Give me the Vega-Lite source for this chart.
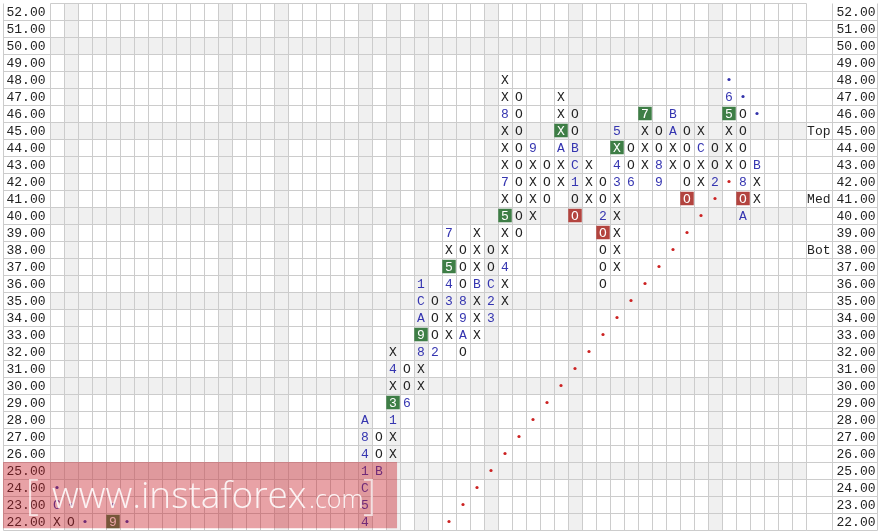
{
  "$schema": "https://vega.github.io/schema/vega-lite/v6.json",
  "width": 756,
  "height": 527,
  "autosize": {"type": "none"},
  "padding": {"left": 50, "top": 3, "right": 73, "bottom": 1},
  "background": "white",
  "config": {
    "view": {"stroke": "#cccccc", "strokeWidth": 1},
    "axis": {"zindex": 0, "title": null}
  },
  "datasets": {
    "gcols": [{"col": 1}, {"col": 12}, {"col": 16}, {"col": 22}, {"col": 24}, {"col": 26}, {"col": 31}, {"col": 37}, {"col": 47}],
    "grows": [{"price": 50}, {"price": 45}, {"price": 40}, {"price": 35}, {"price": 30}, {"price": 25}],
    "wm": [{"site": "www.instaforex", "tld": ".com"}],
    "cells": [
      {"col": 0, "price": 22, "sym": "X", "kind": "x"},
      {"col": 0, "price": 23, "sym": "C", "kind": "m"},
      {"col": 0, "price": 24, "sym": "•", "kind": "bd"},
      {"col": 1, "price": 22, "sym": "O", "kind": "o"},
      {"col": 1, "price": 23, "sym": "•", "kind": "bd"},
      {"col": 2, "price": 22, "sym": "•", "kind": "bd"},
      {"col": 4, "price": 22, "sym": "9", "kind": "g"},
      {"col": 4, "price": 23, "sym": "•", "kind": "bd"},
      {"col": 5, "price": 22, "sym": "•", "kind": "bd"},

      {"col": 22, "price": 22, "sym": "4", "kind": "m"},
      {"col": 22, "price": 23, "sym": "5", "kind": "m"},
      {"col": 22, "price": 24, "sym": "C", "kind": "m"},
      {"col": 22, "price": 25, "sym": "1", "kind": "m"},
      {"col": 22, "price": 26, "sym": "4", "kind": "m"},
      {"col": 22, "price": 27, "sym": "8", "kind": "m"},
      {"col": 22, "price": 28, "sym": "A", "kind": "m"},
      {"col": 23, "price": 25, "sym": "B", "kind": "m"},
      {"col": 23, "price": 26, "sym": "O", "kind": "o"},
      {"col": 23, "price": 27, "sym": "O", "kind": "o"},
      {"col": 24, "price": 26, "sym": "X", "kind": "x"},
      {"col": 24, "price": 27, "sym": "X", "kind": "x"},
      {"col": 24, "price": 28, "sym": "1", "kind": "m"},
      {"col": 24, "price": 29, "sym": "3", "kind": "g"},
      {"col": 24, "price": 30, "sym": "X", "kind": "x"},
      {"col": 24, "price": 31, "sym": "4", "kind": "m"},
      {"col": 24, "price": 32, "sym": "X", "kind": "x"},
      {"col": 25, "price": 29, "sym": "6", "kind": "m"},
      {"col": 25, "price": 30, "sym": "O", "kind": "o"},
      {"col": 25, "price": 31, "sym": "O", "kind": "o"},
      {"col": 26, "price": 30, "sym": "X", "kind": "x"},
      {"col": 26, "price": 31, "sym": "X", "kind": "x"},
      {"col": 26, "price": 32, "sym": "8", "kind": "m"},
      {"col": 26, "price": 33, "sym": "9", "kind": "g"},
      {"col": 26, "price": 34, "sym": "A", "kind": "m"},
      {"col": 26, "price": 35, "sym": "C", "kind": "m"},
      {"col": 26, "price": 36, "sym": "1", "kind": "m"},
      {"col": 27, "price": 32, "sym": "2", "kind": "m"},
      {"col": 27, "price": 33, "sym": "O", "kind": "o"},
      {"col": 27, "price": 34, "sym": "O", "kind": "o"},
      {"col": 27, "price": 35, "sym": "O", "kind": "o"},
      {"col": 28, "price": 33, "sym": "X", "kind": "x"},
      {"col": 28, "price": 34, "sym": "X", "kind": "x"},
      {"col": 28, "price": 35, "sym": "3", "kind": "m"},
      {"col": 28, "price": 36, "sym": "4", "kind": "m"},
      {"col": 28, "price": 37, "sym": "5", "kind": "g"},
      {"col": 28, "price": 38, "sym": "X", "kind": "x"},
      {"col": 28, "price": 39, "sym": "7", "kind": "m"},
      {"col": 29, "price": 32, "sym": "O", "kind": "o"},
      {"col": 29, "price": 33, "sym": "A", "kind": "m"},
      {"col": 29, "price": 34, "sym": "9", "kind": "m"},
      {"col": 29, "price": 35, "sym": "8", "kind": "m"},
      {"col": 29, "price": 36, "sym": "O", "kind": "o"},
      {"col": 29, "price": 37, "sym": "O", "kind": "o"},
      {"col": 29, "price": 38, "sym": "O", "kind": "o"},
      {"col": 30, "price": 33, "sym": "X", "kind": "x"},
      {"col": 30, "price": 34, "sym": "X", "kind": "x"},
      {"col": 30, "price": 35, "sym": "X", "kind": "x"},
      {"col": 30, "price": 36, "sym": "B", "kind": "m"},
      {"col": 30, "price": 37, "sym": "X", "kind": "x"},
      {"col": 30, "price": 38, "sym": "X", "kind": "x"},
      {"col": 30, "price": 39, "sym": "X", "kind": "x"},
      {"col": 31, "price": 34, "sym": "3", "kind": "m"},
      {"col": 31, "price": 35, "sym": "2", "kind": "m"},
      {"col": 31, "price": 36, "sym": "C", "kind": "m"},
      {"col": 31, "price": 37, "sym": "O", "kind": "o"},
      {"col": 31, "price": 38, "sym": "O", "kind": "o"},
      {"col": 32, "price": 35, "sym": "X", "kind": "x"},
      {"col": 32, "price": 36, "sym": "X", "kind": "x"},
      {"col": 32, "price": 37, "sym": "4", "kind": "m"},
      {"col": 32, "price": 38, "sym": "X", "kind": "x"},
      {"col": 32, "price": 39, "sym": "X", "kind": "x"},
      {"col": 32, "price": 40, "sym": "5", "kind": "g"},
      {"col": 32, "price": 41, "sym": "X", "kind": "x"},
      {"col": 32, "price": 42, "sym": "7", "kind": "m"},
      {"col": 32, "price": 43, "sym": "X", "kind": "x"},
      {"col": 32, "price": 44, "sym": "X", "kind": "x"},
      {"col": 32, "price": 45, "sym": "X", "kind": "x"},
      {"col": 32, "price": 46, "sym": "8", "kind": "m"},
      {"col": 32, "price": 47, "sym": "X", "kind": "x"},
      {"col": 32, "price": 48, "sym": "X", "kind": "x"},
      {"col": 33, "price": 39, "sym": "O", "kind": "o"},
      {"col": 33, "price": 40, "sym": "O", "kind": "o"},
      {"col": 33, "price": 41, "sym": "O", "kind": "o"},
      {"col": 33, "price": 42, "sym": "O", "kind": "o"},
      {"col": 33, "price": 43, "sym": "O", "kind": "o"},
      {"col": 33, "price": 44, "sym": "O", "kind": "o"},
      {"col": 33, "price": 45, "sym": "O", "kind": "o"},
      {"col": 33, "price": 46, "sym": "O", "kind": "o"},
      {"col": 33, "price": 47, "sym": "O", "kind": "o"},
      {"col": 34, "price": 40, "sym": "X", "kind": "x"},
      {"col": 34, "price": 41, "sym": "X", "kind": "x"},
      {"col": 34, "price": 42, "sym": "X", "kind": "x"},
      {"col": 34, "price": 43, "sym": "X", "kind": "x"},
      {"col": 34, "price": 44, "sym": "9", "kind": "m"},
      {"col": 35, "price": 41, "sym": "O", "kind": "o"},
      {"col": 35, "price": 42, "sym": "O", "kind": "o"},
      {"col": 35, "price": 43, "sym": "O", "kind": "o"},
      {"col": 36, "price": 42, "sym": "X", "kind": "x"},
      {"col": 36, "price": 43, "sym": "X", "kind": "x"},
      {"col": 36, "price": 44, "sym": "A", "kind": "m"},
      {"col": 36, "price": 45, "sym": "X", "kind": "g"},
      {"col": 36, "price": 46, "sym": "X", "kind": "x"},
      {"col": 36, "price": 47, "sym": "X", "kind": "x"},
      {"col": 37, "price": 40, "sym": "O", "kind": "r"},
      {"col": 37, "price": 41, "sym": "O", "kind": "o"},
      {"col": 37, "price": 42, "sym": "1", "kind": "m"},
      {"col": 37, "price": 43, "sym": "C", "kind": "m"},
      {"col": 37, "price": 44, "sym": "B", "kind": "m"},
      {"col": 37, "price": 45, "sym": "O", "kind": "o"},
      {"col": 37, "price": 46, "sym": "O", "kind": "o"},
      {"col": 38, "price": 41, "sym": "X", "kind": "x"},
      {"col": 38, "price": 42, "sym": "X", "kind": "x"},
      {"col": 38, "price": 43, "sym": "X", "kind": "x"},
      {"col": 39, "price": 36, "sym": "O", "kind": "o"},
      {"col": 39, "price": 37, "sym": "O", "kind": "o"},
      {"col": 39, "price": 38, "sym": "O", "kind": "o"},
      {"col": 39, "price": 39, "sym": "O", "kind": "r"},
      {"col": 39, "price": 40, "sym": "2", "kind": "m"},
      {"col": 39, "price": 41, "sym": "O", "kind": "o"},
      {"col": 39, "price": 42, "sym": "O", "kind": "o"},
      {"col": 40, "price": 37, "sym": "X", "kind": "x"},
      {"col": 40, "price": 38, "sym": "X", "kind": "x"},
      {"col": 40, "price": 39, "sym": "X", "kind": "x"},
      {"col": 40, "price": 40, "sym": "X", "kind": "x"},
      {"col": 40, "price": 41, "sym": "X", "kind": "x"},
      {"col": 40, "price": 42, "sym": "3", "kind": "m"},
      {"col": 40, "price": 43, "sym": "4", "kind": "m"},
      {"col": 40, "price": 44, "sym": "X", "kind": "g"},
      {"col": 40, "price": 45, "sym": "5", "kind": "m"},
      {"col": 41, "price": 42, "sym": "6", "kind": "m"},
      {"col": 41, "price": 43, "sym": "O", "kind": "o"},
      {"col": 41, "price": 44, "sym": "O", "kind": "o"},
      {"col": 42, "price": 43, "sym": "X", "kind": "x"},
      {"col": 42, "price": 44, "sym": "X", "kind": "x"},
      {"col": 42, "price": 45, "sym": "X", "kind": "x"},
      {"col": 42, "price": 46, "sym": "7", "kind": "g"},
      {"col": 43, "price": 42, "sym": "9", "kind": "m"},
      {"col": 43, "price": 43, "sym": "8", "kind": "m"},
      {"col": 43, "price": 44, "sym": "O", "kind": "o"},
      {"col": 43, "price": 45, "sym": "O", "kind": "o"},
      {"col": 44, "price": 43, "sym": "X", "kind": "x"},
      {"col": 44, "price": 44, "sym": "X", "kind": "x"},
      {"col": 44, "price": 45, "sym": "A", "kind": "m"},
      {"col": 44, "price": 46, "sym": "B", "kind": "m"},
      {"col": 45, "price": 41, "sym": "O", "kind": "r"},
      {"col": 45, "price": 42, "sym": "O", "kind": "o"},
      {"col": 45, "price": 43, "sym": "O", "kind": "o"},
      {"col": 45, "price": 44, "sym": "O", "kind": "o"},
      {"col": 45, "price": 45, "sym": "O", "kind": "o"},
      {"col": 46, "price": 42, "sym": "X", "kind": "x"},
      {"col": 46, "price": 43, "sym": "X", "kind": "x"},
      {"col": 46, "price": 44, "sym": "C", "kind": "m"},
      {"col": 46, "price": 45, "sym": "X", "kind": "x"},
      {"col": 47, "price": 42, "sym": "2", "kind": "m"},
      {"col": 47, "price": 43, "sym": "O", "kind": "o"},
      {"col": 47, "price": 44, "sym": "O", "kind": "o"},
      {"col": 48, "price": 43, "sym": "X", "kind": "x"},
      {"col": 48, "price": 44, "sym": "X", "kind": "x"},
      {"col": 48, "price": 45, "sym": "X", "kind": "x"},
      {"col": 48, "price": 46, "sym": "5", "kind": "g"},
      {"col": 48, "price": 47, "sym": "6", "kind": "m"},
      {"col": 48, "price": 48, "sym": "•", "kind": "bd"},
      {"col": 49, "price": 40, "sym": "A", "kind": "m"},
      {"col": 49, "price": 41, "sym": "O", "kind": "r"},
      {"col": 49, "price": 42, "sym": "8", "kind": "m"},
      {"col": 49, "price": 43, "sym": "O", "kind": "o"},
      {"col": 49, "price": 44, "sym": "O", "kind": "o"},
      {"col": 49, "price": 45, "sym": "O", "kind": "o"},
      {"col": 49, "price": 46, "sym": "O", "kind": "o"},
      {"col": 49, "price": 47, "sym": "•", "kind": "bd"},
      {"col": 50, "price": 41, "sym": "X", "kind": "x"},
      {"col": 50, "price": 42, "sym": "X", "kind": "x"},
      {"col": 50, "price": 43, "sym": "B", "kind": "m"},
      {"col": 50, "price": 46, "sym": "•", "kind": "bd"},

      {"col": 28, "price": 22, "sym": "•", "kind": "rd"},
      {"col": 29, "price": 23, "sym": "•", "kind": "rd"},
      {"col": 30, "price": 24, "sym": "•", "kind": "rd"},
      {"col": 31, "price": 25, "sym": "•", "kind": "rd"},
      {"col": 32, "price": 26, "sym": "•", "kind": "rd"},
      {"col": 33, "price": 27, "sym": "•", "kind": "rd"},
      {"col": 34, "price": 28, "sym": "•", "kind": "rd"},
      {"col": 35, "price": 29, "sym": "•", "kind": "rd"},
      {"col": 36, "price": 30, "sym": "•", "kind": "rd"},
      {"col": 37, "price": 31, "sym": "•", "kind": "rd"},
      {"col": 38, "price": 32, "sym": "•", "kind": "rd"},
      {"col": 39, "price": 33, "sym": "•", "kind": "rd"},
      {"col": 40, "price": 34, "sym": "•", "kind": "rd"},
      {"col": 41, "price": 35, "sym": "•", "kind": "rd"},
      {"col": 42, "price": 36, "sym": "•", "kind": "rd"},
      {"col": 43, "price": 37, "sym": "•", "kind": "rd"},
      {"col": 44, "price": 38, "sym": "•", "kind": "rd"},
      {"col": 45, "price": 39, "sym": "•", "kind": "rd"},
      {"col": 46, "price": 40, "sym": "•", "kind": "rd"},
      {"col": 47, "price": 41, "sym": "•", "kind": "rd"},
      {"col": 48, "price": 42, "sym": "•", "kind": "rd"}
    ]
  },
  "resolve": {"axis": {"x": "independent", "y": "independent"}},
  "layer": [
    {
      "data": {"name": "gcols"},
      "mark": {"type": "tick", "orient": "vertical", "thickness": 14, "size": 527, "color": "#f0f0f0", "opacity": 1, "blend": "darken"},
      "encoding": {
        "x": {"field": "col", "type": "quantitative", "scale": {"domain": [-0.5, 53.5], "nice": false, "zero": false},
          "axis": {"orient": "bottom", "values": [0.5,1.5,2.5,3.5,4.5,5.5,6.5,7.5,8.5,9.5,10.5,11.5,12.5,13.5,14.5,15.5,16.5,17.5,18.5,19.5,20.5,21.5,22.5,23.5,24.5,25.5,26.5,27.5,28.5,29.5,30.5,31.5,32.5,33.5,34.5,35.5,36.5,37.5,38.5,39.5,40.5,41.5,42.5,43.5,44.5,45.5,46.5,47.5,48.5,49.5,50.5,51.5,52.5],
            "grid": true, "gridColor": "#cccccc", "gridWidth": 1, "labels": false, "ticks": false, "domain": false, "title": null, "zindex": 0}}
      }
    },
    {
      "data": {"name": "grows"},
      "mark": {"type": "tick", "orient": "horizontal", "thickness": 17, "size": 756, "color": "#f0f0f0", "opacity": 1, "blend": "darken"},
      "encoding": {
        "y": {"field": "price", "type": "quantitative", "scale": {"domain": [21.5, 52.5], "nice": false, "zero": false},
          "axis": {"orient": "left", "values": [22,23,24,25,26,27,28,29,30,31,32,33,34,35,36,37,38,39,40,41,42,43,44,45,46,47,48,49,50,51,52,53],
            "tickOffset": 8.5, "labelOffset": -8.5, "grid": true, "gridColor": "#cccccc", "gridWidth": 1,
            "ticks": true, "tickSize": 47, "tickColor": "#cccccc", "tickWidth": 1, "domain": false,
            "labelPadding": -42, "labelAlign": "right", "labelBaseline": "middle", "labelFont": "Liberation Mono", "labelFontSize": 13, "labelColor": "#222222",
            "labelExpr": "datum.value > 52.5 ? '' : format(datum.value, '.2f')", "labelOverlap": false, "labelBound": false, "labelFlush": false, "title": null, "zindex": 0}}
      }
    },
    {
      "data": {"name": "cells"},
      "transform": [{"filter": {"field": "kind", "equal": "g"}}],
      "mark": {"type": "square", "size": 182, "filled": true, "opacity": 1, "color": "#3e7e46"},
      "encoding": {
        "x": {"field": "col", "type": "quantitative", "scale": {"domain": [-0.5, 53.5], "nice": false, "zero": false}, "axis": null},
        "y": {"field": "price", "type": "quantitative", "scale": {"domain": [21.5, 52.5], "nice": false, "zero": false},
          "axis": {"orient": "left", "offset": 47, "domain": true, "domainColor": "#cccccc", "domainWidth": 1, "labels": false, "ticks": false, "grid": false, "title": null, "zindex": 0}}
      }
    },
    {
      "data": {"name": "cells"},
      "transform": [{"filter": {"field": "kind", "equal": "r"}}],
      "mark": {"type": "square", "size": 182, "filled": true, "opacity": 1, "color": "#b3443f"},
      "encoding": {
        "x": {"field": "col", "type": "quantitative", "scale": {"domain": [-0.5, 53.5], "nice": false, "zero": false}, "axis": null},
        "y": {"field": "price", "type": "quantitative", "scale": {"domain": [21.5, 52.5], "nice": false, "zero": false},
          "axis": {"orient": "right", "offset": 26, "domain": true, "domainColor": "#cccccc", "domainWidth": 1, "labels": false, "ticks": false, "grid": false, "title": null, "zindex": 0}}
      }
    },
    {
      "data": {"name": "cells"},
      "transform": [{"filter": {"field": "kind", "equal": "rd"}}],
      "mark": {"type": "circle", "size": 10, "opacity": 1, "color": "#cc2222"},
      "encoding": {
        "x": {"field": "col", "type": "quantitative", "scale": {"domain": [-0.5, 53.5], "nice": false, "zero": false}, "axis": null},
        "y": {"field": "price", "type": "quantitative", "scale": {"domain": [21.5, 52.5], "nice": false, "zero": false},
          "axis": {"orient": "right", "values": [38, 41, 45], "ticks": false, "domain": false, "grid": false, "labelPadding": 24, "labelAlign": "right", "labelBaseline": "middle",
            "labelFont": "Liberation Mono", "labelFontSize": 13, "labelColor": "#222222", "labelOverlap": false, "labelBound": false, "labelFlush": false,
            "labelExpr": "datum.value == 45 ? 'Top' : (datum.value == 41 ? 'Med' : 'Bot')", "title": null, "zindex": 0}}
      }
    },
    {
      "data": {"name": "cells"},
      "transform": [{"filter": {"field": "kind", "equal": "bd"}}],
      "mark": {"type": "circle", "size": 10, "opacity": 1, "color": "#3333aa"},
      "encoding": {
        "x": {"field": "col", "type": "quantitative", "scale": {"domain": [-0.5, 53.5], "nice": false, "zero": false}, "axis": null},
        "y": {"field": "price", "type": "quantitative", "scale": {"domain": [21.5, 52.5], "nice": false, "zero": false}, "axis": null}
      }
    },
    {
      "data": {"name": "cells"},
      "transform": [{"filter": {"field": "kind", "oneOf": ["x", "o"]}}],
      "mark": {"type": "text", "font": "Liberation Mono", "fontSize": 13, "align": "center", "baseline": "middle", "color": "#222222"},
      "encoding": {
        "x": {"field": "col", "type": "quantitative", "scale": {"domain": [-0.5, 53.5], "nice": false, "zero": false}, "axis": null},
        "y": {"field": "price", "type": "quantitative", "scale": {"domain": [21.5, 52.5], "nice": false, "zero": false},
          "axis": {"orient": "right", "values": [22,23,24,25,26,27,28,29,30,31,32,33,34,35,36,37,38,39,40,41,42,43,44,45,46,47,48,49,50,51,52,53],
            "tickOffset": 8.5, "labelOffset": -8.5, "grid": false, "ticks": true, "tickSize": 71, "tickColor": "#cccccc", "tickWidth": 1, "domain": false,
            "labelPadding": -2, "labelAlign": "right", "labelBaseline": "middle", "labelFont": "Liberation Mono", "labelFontSize": 13, "labelColor": "#222222",
            "labelExpr": "datum.value > 52.5 ? '' : format(datum.value, '.2f')", "labelOverlap": false, "labelBound": false, "labelFlush": false, "title": null, "zindex": 0}},
        "text": {"field": "sym"}
      }
    },
    {
      "data": {"name": "cells"},
      "transform": [{"filter": {"field": "kind", "equal": "m"}}],
      "mark": {"type": "text", "font": "Liberation Mono", "fontSize": 13, "align": "center", "baseline": "middle", "color": "#3535b0"},
      "encoding": {
        "x": {"field": "col", "type": "quantitative", "scale": {"domain": [-0.5, 53.5], "nice": false, "zero": false}, "axis": null},
        "y": {"field": "price", "type": "quantitative", "scale": {"domain": [21.5, 52.5], "nice": false, "zero": false},
          "axis": {"orient": "right", "offset": 71, "domain": true, "domainColor": "#cccccc", "domainWidth": 1, "labels": false, "ticks": false, "grid": false, "title": null, "zindex": 0}},
        "text": {"field": "sym"}
      }
    },
    {
      "data": {"name": "cells"},
      "transform": [{"filter": {"field": "kind", "oneOf": ["g", "r"]}}],
      "mark": {"type": "text", "font": "Liberation Mono", "fontSize": 13, "align": "center", "baseline": "middle", "color": "#ffffff"},
      "encoding": {
        "x": {"field": "col", "type": "quantitative", "scale": {"domain": [-0.5, 53.5], "nice": false, "zero": false}, "axis": null},
        "y": {"field": "price", "type": "quantitative", "scale": {"domain": [21.5, 52.5], "nice": false, "zero": false}, "axis": null},
        "text": {"field": "sym"}
      }
    },
    {
      "data": {"name": "wm"},
      "mark": {"type": "rect", "color": "#c81e28", "opacity": 0.41},
      "encoding": {
        "x": {"datum": -3.857, "type": "quantitative", "scale": {"domain": [-0.5, 53.5], "nice": false, "zero": false}, "axis": null},
        "x2": {"datum": 24.29},
        "y": {"datum": 25.5, "type": "quantitative", "scale": {"domain": [21.5, 52.5], "nice": false, "zero": false}, "axis": null},
        "y2": {"datum": 21.6}
      }
    },
    {
      "data": {"name": "wm"},
      "mark": {"type": "text", "font": "Open Sans", "fontSize": 37, "fontWeight": 300, "align": "left", "baseline": "alphabetic", "color": "#ffffff", "opacity": 0.88},
      "encoding": {
        "x": {"datum": -0.36, "type": "quantitative", "scale": {"domain": [-0.5, 53.5], "nice": false, "zero": false}, "axis": null},
        "y": {"datum": 22.79, "type": "quantitative", "scale": {"domain": [21.5, 52.5], "nice": false, "zero": false}, "axis": null},
        "text": {"field": "site"}
      }
    },
    {
      "data": {"name": "wm"},
      "mark": {"type": "text", "font": "Open Sans", "fontSize": 25, "fontWeight": 300, "align": "left", "baseline": "alphabetic", "color": "#ffffff", "opacity": 0.88},
      "encoding": {
        "x": {"datum": 18.0, "type": "quantitative", "scale": {"domain": [-0.5, 53.5], "nice": false, "zero": false}, "axis": null},
        "y": {"datum": 22.79, "type": "quantitative", "scale": {"domain": [21.5, 52.5], "nice": false, "zero": false}, "axis": null},
        "text": {"field": "tld"}
      }
    },
    {
      "data": {"name": "wm"},
      "mark": {"type": "text", "font": "Open Sans", "fontSize": 42, "fontWeight": 300, "align": "left", "baseline": "alphabetic", "color": "#ffffff", "opacity": 0.7, "text": "["},
      "encoding": {
        "x": {"datum": -2.25, "type": "quantitative", "scale": {"domain": [-0.5, 53.5], "nice": false, "zero": false}, "axis": null},
        "y": {"datum": 22.75, "type": "quantitative", "scale": {"domain": [21.5, 52.5], "nice": false, "zero": false}, "axis": null}
      }
    },
    {
      "data": {"name": "wm"},
      "mark": {"type": "text", "font": "Open Sans", "fontSize": 42, "fontWeight": 300, "align": "left", "baseline": "alphabetic", "color": "#ffffff", "opacity": 0.7, "text": "]"},
      "encoding": {
        "x": {"datum": 21.85, "type": "quantitative", "scale": {"domain": [-0.5, 53.5], "nice": false, "zero": false}, "axis": null},
        "y": {"datum": 22.75, "type": "quantitative", "scale": {"domain": [21.5, 52.5], "nice": false, "zero": false}, "axis": null}
      }
    }
  ]
}
